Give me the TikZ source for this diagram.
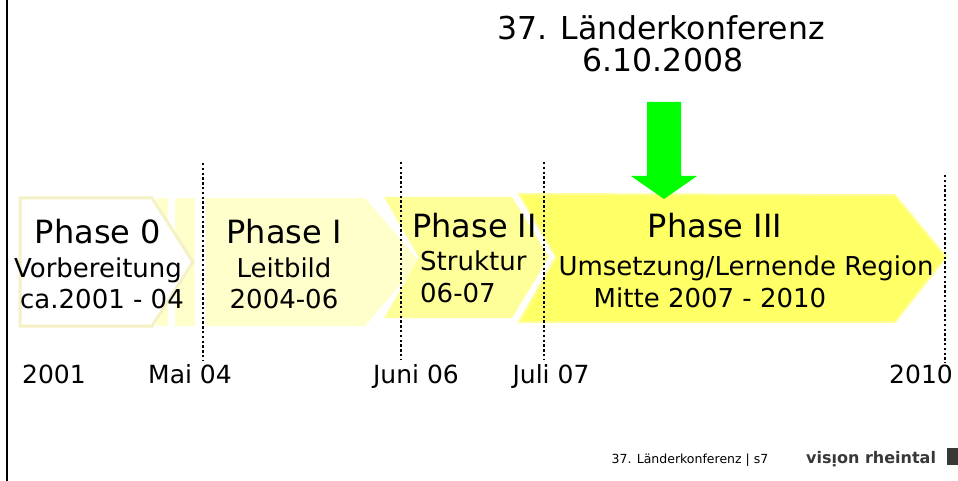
\documentclass[tikz,border=0pt]{standalone}
\usepackage{fontspec}
\setmainfont{DejaVu Sans}
\definecolor{pzeroline}{HTML}{F5F1C4}
\definecolor{ponefill}{HTML}{FFFFCC}
\definecolor{ptwofill}{HTML}{FFFF99}
\definecolor{pthreefill}{HTML}{FFFF66}
\definecolor{pthreeline}{HTML}{FFFF9A}
\definecolor{markgreen}{HTML}{00FF00}
\definecolor{logogray}{HTML}{383838}
\begin{document}
\begin{tikzpicture}[x=1pt, y=-1pt,
    phasetitle/.style={anchor=base, inner sep=0pt, font=\fontsize{32}{36}\selectfont},
    phasetext/.style={anchor=base, inner sep=0pt, font=\fontsize{26}{30}\selectfont},
    datelabel/.style={anchor=base, inner sep=0pt, font=\fontsize{25}{30}\selectfont},
    milestone/.style={line width=2.6pt, dash pattern=on 2.4pt off 2.4pt}]
    \useasboundingbox (0,0) rectangle (958,481);

    \draw [black, line width=2.2pt] (7,0) -- (7,481);

    % phases
    \fill [ponefill] (157,198) rectangle (168,326);
    \fill [ponefill] (175,198) rectangle (195,326);
    \filldraw [draw=pzeroline, fill=white, line width=3pt] plot coordinates { (20,198) (152,198) (193,262) (152,326) (20,326) } -- cycle;
    \fill [ponefill] plot coordinates { (206,198) (365,198) (420,262) (365,326) (206,326) } -- cycle;
    \fill [ptwofill] plot coordinates { (384,197) (512,197) (549,257) (512,318) (384,318) (419,258) } -- cycle;
    \filldraw [draw=pthreeline, fill=pthreefill, line width=2pt] plot coordinates { (519,194) (895,195) (946,257) (895,322) (519,322) (556,257) } -- cycle;

    \fill [markgreen] plot coordinates { (647,102) (681,102) (681,176) (697,176) (664,199) (631,176) (647,176) } -- cycle;

    % dates
    \foreach \x/\ytop/\ybot in {203/163/360, 401/162/360, 544/162/360, 945/175/363}
        \draw [milestone] (\x,\ytop) -- (\x,\ybot);

    \node[anchor=base, inner sep=0pt, font=\fontsize{31.5}{36}\selectfont] (title) at (661,40) {37. Länderkonferenz};
    \node[anchor=base, inner sep=0pt, font=\fontsize{31.5}{36}\selectfont] (titledate) at (663,72) {6.10.2008};

    \node[phasetitle] (p0title) at (98,243) {Phase 0};
    \node[phasetext] (p0name) at (98,277) {Vorbereitung};
    \node[phasetext] (p0time) at (102,308) {ca.2001 - 04};

    \node[phasetitle] (p1title) at (284,243) {Phase I};
    \node[phasetext] (p1name) at (284,277) {Leitbild};
    \node[phasetext] (p1time) at (284,308) {2004-06};

    \node[phasetitle, anchor=base west] (p2title) at (412,237) {Phase II};
    \node[phasetext, anchor=base west] (p2name) at (420,270) {Struktur};
    \node[phasetext, anchor=base west] (p2time) at (420,302) {06-07};

    \node[phasetitle] (p3title) at (715,237) {Phase III};
    \node[phasetext] (p3name) at (746,275) {Umsetzung/Lernende Region};
    \node[phasetext] (p3time) at (710,307) {Mitte 2007 - 2010};

    \node[datelabel] (d2001) at (54,383) {2001};
    \node[datelabel] (dmai) at (190,383) {Mai 04};
    \node[datelabel] (djuni) at (416,383) {Juni 06};
    \node[datelabel] (djuli) at (551,383) {Juli 07};
    \node[datelabel] (d2010) at (921,383) {2010};

    \node[anchor=base, inner sep=0pt, font=\fontsize{12.5}{15}\selectfont, text=black] (footer) at (690,463) {37. Länderkonferenz | s7};
    \node[anchor=base west, inner sep=0pt, font=\bfseries\fontsize{16}{18}\selectfont, text=logogray] (logo) at (806,463) {visı̣on rheintal};
    \fill [logogray] (947,448) rectangle (958,465);
\end{tikzpicture}
\end{document}
